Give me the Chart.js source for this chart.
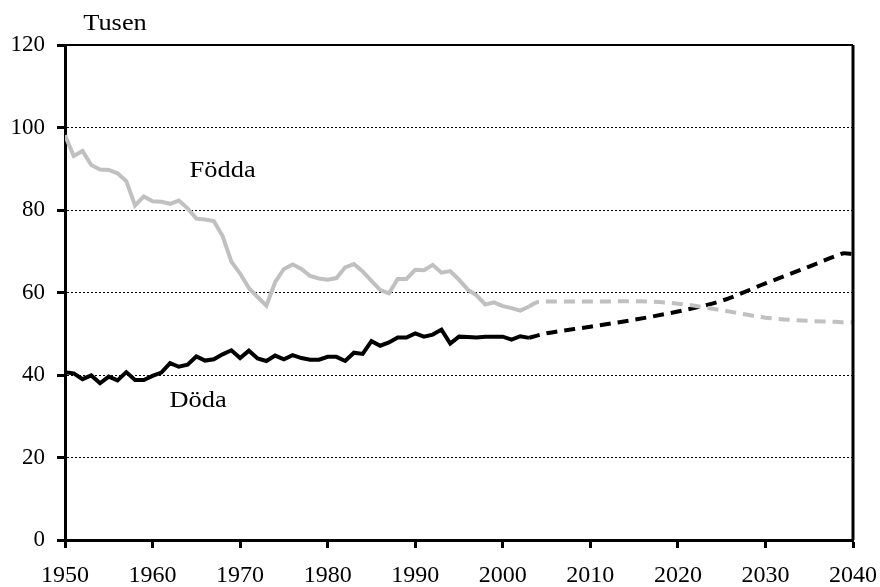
<!DOCTYPE html>
<html>
<head>
<meta charset="utf-8">
<script src="https://cdn.jsdelivr.net/npm/chart.js@4"></script>
<style>
  html, body { margin: 0; padding: 0; background: #fff; }
  #wrap { width: 880px; height: 587px; }
</style>
</head>
<body>
<div id="wrap"><canvas id="befChart" width="880" height="587"></canvas></div>
<script>
// observed years 1950-2003
var years = [];
for (var yr = 1950; yr <= 2003; yr++) years.push(yr);

var fodda = [98.1, 93.1, 94.3, 90.9, 89.8, 89.7, 88.9, 87.0, 81.1, 83.3,
  82.1, 82.0, 81.5, 82.3, 80.4, 77.9, 77.7, 77.3, 73.7, 67.5,
  64.6, 61.1, 58.9, 56.8, 62.5, 65.7, 66.8, 65.7, 64.0, 63.4,
  63.1, 63.5, 66.1, 66.9, 65.1, 62.8, 60.6, 59.8, 63.3, 63.3,
  65.5, 65.4, 66.7, 64.8, 65.2, 63.1, 60.7, 59.3, 57.1, 57.6,
  56.7, 56.2, 55.6, 56.6];

var doda = [40.7, 40.4, 39.0, 39.9, 38.0, 39.6, 38.7, 40.7, 38.8, 38.8,
  39.8, 40.6, 42.9, 42.0, 42.5, 44.5, 43.5, 43.8, 45.0, 46.0,
  44.1, 45.9, 44.0, 43.4, 44.7, 43.8, 44.8, 44.1, 43.7, 43.7,
  44.4, 44.4, 43.4, 45.4, 45.1, 48.2, 47.1, 47.9, 49.1, 49.1,
  50.1, 49.3, 49.8, 51.0, 47.6, 49.3, 49.2, 49.1, 49.3, 49.3,
  49.3, 48.6, 49.4, 49.0];

// projection
var projYears = [2003, 2004, 2005, 2010, 2015, 2020, 2025, 2030, 2035, 2038, 2039, 2040];
var foddaProj = [56.6, 57.7, 57.8, 57.8, 57.9, 57.3, 55.7, 53.9, 53.1, 52.9, 52.8, 52.8];
var dodaProj  = [49.0, 49.6, 50.1, 51.7, 53.4, 55.4, 58.0, 62.2, 66.3, 68.8, 69.5, 69.3];

var yTicks = [0, 20, 40, 60, 80, 100, 120];
var unitLabel = 'Tusen';
var seriesLabels = [
  { text: 'Födda', x: 1968.0, y: 89.6 },
  { text: 'Döda', x: 1965.2, y: 33.7 }
];

var grey = '#c0c0c0';
var serif = '"Liberation Serif", "Times New Roman", serif';

function pts(xs, ys) {
  return xs.map(function(x, i) { return { x: x, y: ys[i] }; });
}

function wideText(ctx, text, x, y) {
  ctx.save();
  ctx.translate(x, y);
  ctx.scale(1.1, 1);
  ctx.fillText(text, 0, 0);
  ctx.restore();
}

var framePlugin = {
  id: 'frame',
  afterDraw: function(chart) {
    var ctx = chart.ctx, a = chart.chartArea;
    var xs = chart.scales.x, ys = chart.scales.y;
    ctx.save();
    ctx.strokeStyle = '#000';
    ctx.lineWidth = 2;
    ctx.beginPath();
    ctx.moveTo(a.left, a.top);
    ctx.lineTo(a.right, a.top);
    ctx.stroke();
    ctx.lineWidth = 3;
    ctx.beginPath();
    ctx.moveTo(a.right, a.top);
    ctx.lineTo(a.right, a.bottom);
    ctx.stroke();

    ctx.fillStyle = '#000';
    ctx.textAlign = 'center';
    ctx.textBaseline = 'middle';
    ctx.font = '24px ' + serif;
    wideText(ctx, unitLabel, a.left + 50, a.top - 21);
    seriesLabels.forEach(function(l) {
      wideText(ctx, l.text, xs.getPixelForValue(l.x), ys.getPixelForValue(l.y));
    });
    ctx.restore();
  }
};

var ctx = document.getElementById('befChart').getContext('2d');

var chart = new Chart(ctx, {
  type: 'line',
  data: {
    datasets: [
      {
        data: pts(years, fodda),
        borderColor: grey,
        borderWidth: 4,
        pointRadius: 0
      },
      {
        data: pts(years, doda),
        borderColor: '#000',
        borderWidth: 4,
        pointRadius: 0
      },
      {
        data: pts(projYears, foddaProj),
        borderColor: grey,
        borderWidth: 4,
        borderDash: [11, 7],
        cubicInterpolationMode: 'monotone',
        pointRadius: 0
      },
      {
        data: pts(projYears, dodaProj),
        borderColor: '#000',
        borderWidth: 4,
        borderDash: [11, 7],
        cubicInterpolationMode: 'monotone',
        pointRadius: 0
      }
    ]
  },
  options: {
    responsive: false,
    animation: false,
    layout: { padding: { top: 45, right: 27, left: 0, bottom: 0 } },
    plugins: {
      legend: { display: false },
      tooltip: { enabled: false }
    },
    scales: {
      x: {
        type: 'linear',
        min: 1950,
        max: 2040,
        afterFit: function(s) {
          s.height = 47;
          s.paddingLeft = 0;
          s.paddingRight = 0;
        },
        ticks: {
          stepSize: 10,
          color: '#000',
          padding: 13,
          maxRotation: 0,
          font: { family: serif, size: 24 },
          callback: function(v) { return String(v); }
        },
        grid: {
          drawOnChartArea: false,
          drawTicks: true,
          tickLength: 8,
          tickWidth: 3,
          tickColor: '#000'
        },
        border: { display: true, color: '#000', width: 3 }
      },
      y: {
        min: 0,
        max: 120,
        afterFit: function(s) { s.width = 65; },
        afterBuildTicks: function(s) {
          s.ticks = yTicks.map(function(v) { return { value: v }; });
        },
        ticks: {
          color: '#000',
          padding: 12,
          font: { family: serif, size: 23 }
        },
        grid: {
          color: function(c) {
            return (c.tick && (c.tick.value === 0 || c.tick.value === 120)) ? 'rgba(0,0,0,0)' : '#000';
          },
          lineWidth: 1,
          drawTicks: true,
          tickLength: 8,
          tickWidth: 3,
          tickColor: '#000'
        },
        border: { display: true, color: '#000', width: 3, dash: [2, 2] }
      }
    }
  },
  plugins: [framePlugin]
});
</script>
</body>
</html>
